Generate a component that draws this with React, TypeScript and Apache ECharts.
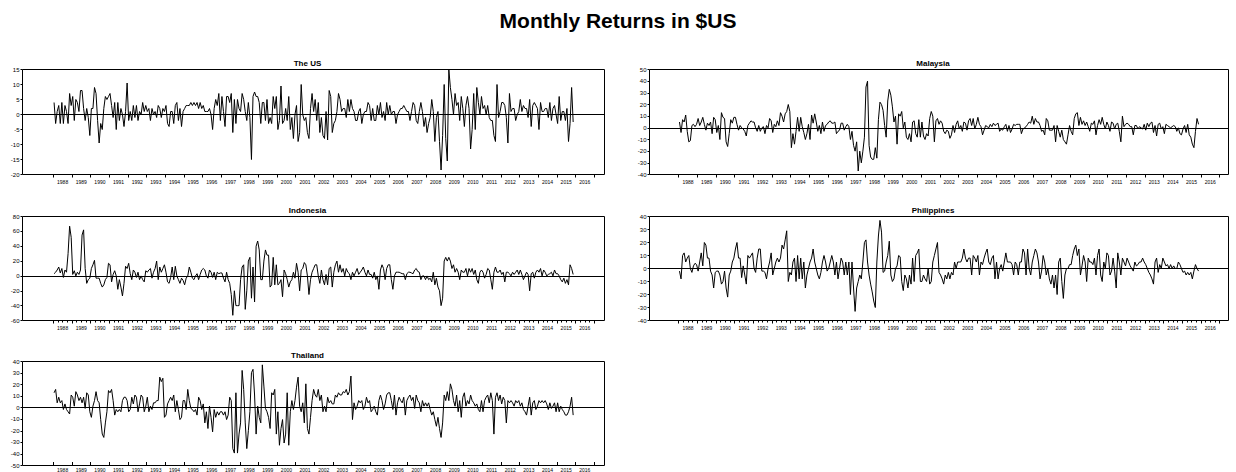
import React, { useEffect, useRef } from "react";
import * as echarts from "echarts";

// ---------- tick labels ----------
const years = [
  "1988", "1989", "1990", "1991", "1992", "1993", "1994", "1995", "1996", "1997",
  "1998", "1999", "2000", "2001", "2002", "2003", "2004", "2005", "2006", "2007",
  "2008", "2009", "2010", "2011", "2012", "2013", "2014", "2015", "2016",
];

// ---------- monthly returns (%), one row per year, 1988M01 – 2015M11 ----------
const usReturns = [
  [4, -3, 1, 3, -3, 4, -3, 3, 1, -3, 7, 3],
  [6, -2, 5, 4, 1, 8, 8, 2, -2, 2, -1, -7],
  [2, 2, 9, 7, -2, -9.5, -3, -5, 2, 6, 5, 6],
  [7, 3, -1, 4, -5, 4, -2, 2, 0, -4, 1, 10.5],
  [-2, 1, -2, 3, -1, 3, -2, 1, 0, 4, 1, 3],
  [1, 2, -2, 2, 0, 1, -1, 3, 2, -1, 2, 1],
  [3, -3, -4, 1, 1, -3, 3, 4, -2, 2, -4, 1],
  [2, 3, 3, 3, 4, 3, 4, 3, 4, 2, 4, 2],
  [3, 1, 1, 1, 2, 0, -5, 2, 5, 3, 7, -2],
  [6, 1, -4, 6, 6, 4, 7, -6, 5, -3, 5, 2],
  [1, 7, 5, 1, -2, 4, -1, -15, 6, 7.5, 6, 6],
  [4, -3, 4, 4, -2, 5, -3, -1, -3, 6, 2, 6],
  [-5, -2, 9.5, -3, -2, 2, -2, 6, -5, -1, -8, 0],
  [3, -9, -6, 10, 0, -2, -1, -6, -8, 2, 7, 1],
  [5, -2, 4, -6, -1, -7, -8, 1, -8.5, 8, 6, -6],
  [-3, -2, 1, 7, 5, 1, 2, 2, -1, 5, 1, 5],
  [2, 1, -2, -2, 1, 2, -3, 0, 1, 1, 4, 3],
  [-2, 2, -2, -2, 3, 0, 4, -1, 1, -2, 4, 0],
  [3, 0, 1, 1, -3, 0, 1, 2, 2, 3, 2, 1],
  [1, -2, 1, 4, 3, -2, -3, 1, 4, 1, -4, -1],
  [-6, -3, -1, 5, 1, -9, -1, 1, -9, -18.5, -7, 10],
  [-8, -15.5, 15, 9, 5, 0, 7, 3, 4, -2, 6, 2],
  [-4, 3, 6, 2, -11.5, -5, 7, -5, 9, 4, 0, 6],
  [2, 3, 0, 3, -1, -2, -2, -7, -9, 10, -1, 1],
  [4, 4, 3, -1, -9.5, 7, 1, 2, 2, -2, 0, 1],
  [5, 1, 3, 2, 2, -1, 5, -4, 3, 4, 3, 2],
  [-5, 4, 1, 1, 2, 2, -1, 4, -2, 2, 3, 0],
  [-3, 6, -2, 1, 1, -2, 2, -9, -3, 9, -2.5],
];

const malaysiaReturns = [
  [5, -4, 7, 5, 11, -3, -12, -11, 2, 3, 1, 3],
  [8, 2, 5, 9, 3, -2, 4, 2, 5, -5, 9, 7],
  [-4, 2, -10, 13, 9, 8, -12, -16, -5, 7, 4, 9],
  [9, 3, -2, 2, 0, -1, -3, -7, 2, 4, 6, 5],
  [5, 0, -3, 2, -3, 0, 1, -5, 2, 0, 8, 6],
  [-4, 3, 1, 6, 2, 13, 10, 5, 12, 14, 20, 14],
  [-17, -5, -14, -3, 9, -3, 9, 1, -4, -10, -5, 3],
  [-10, 11, 4, 12, 5, -3, 2, -5, 5, -3, 2, 3],
  [5, 6, 4, 4, 5, -5, -3, -2, 4, 4, -2, 1],
  [3, 1, -10, -3, -15, -20, -12, -37, -20, -30, -20, -8],
  [35, 40, -15, -25, -27, -27, -17, -26, 7, 22, 20, 15],
  [2, -8, 23, 33, 28, 18, 5, 10, -14, 12, 10, 14],
  [0, 5, -8, -10, -5, -12, 5, 6, -5, -8, 7, -8],
  [5, -7, -10, -5, -7, 8, 14, 10, -12, 6, 8, 3],
  [6, 4, -3, -5, -2, -3, -9, -6, 2, -4, 3, 6],
  [-1, 2, -3, 5, 4, -2, 6, 8, 2, 8, -1, 3],
  [9, 3, 1, -6, -2, 2, 1, 0, 3, 1, 4, 2],
  [3, 4, -3, -1, -2, 1, 3, -3, 2, -4, -1, 3],
  [2, 3, 3, 3, -5, -1, 0, 1, 3, 5, 4, 10],
  [3, 8, 5, 5, 2, -3, -2, -6, 8, 6, -2, -2],
  [-2, 2, -12, 2, -3, -8, -2, -10, -12, -14, -6, 2],
  [-3, -6, 8, 12, 13, 2, 9, 3, 6, 2, 5, 1],
  [-3, 4, 3, 6, -6, 2, 7, 3, 9, 3, -1, 5],
  [2, -3, 5, 4, -1, 3, 4, -3, -12, 10, 1, 3],
  [4, 3, 1, 1, -6, 2, 2, -1, 1, 0, -1, 3],
  [-2, 4, 1, 4, 5, -4, 2, -7, 3, 4, -1, 1],
  [-5, 3, 2, 1, 0, 1, 2, 1, -3, 0, -5, -6],
  [-1, 2, -4, 3, -6, -8, -14, -17, -3, 8, 3],
];

const indonesiaReturns = [
  [3, 5, 8, 12, 4, 10, -2, 8, 5, 30, 67, 52],
  [2, 7, 0, 5, 2, 8, 55, 62, 10, -10, -5, -3],
  [10, 15, 21, -3, -3, -3, -10, -15, -12, -5, -2, 17],
  [15, -8, 2, 7, 0, -18, -5, -15, -27, -10, 13, 10],
  [17, 3, -5, 8, 5, -2, 5, -5, 0, -5, -8, 7],
  [5, 8, 10, -3, 5, 10, 20, -5, 12, 5, 10, 15],
  [5, -8, -10, -2, 12, -5, 13, 0, -5, -10, -3, -6],
  [-12, -3, 0, 12, 5, -3, -5, 0, 3, -5, 2, 8],
  [10, 8, 0, -3, 8, 5, -2, 5, -5, 5, 3, 4],
  [4, -3, -8, 5, -5, -10, -25, -53, -20, -40, -40, -40],
  [-5, 12, 15, -45, -20, 20, 25, -30, 12, -35, 40, 47],
  [35, -5, -5, 20, 35, 28, 28, -15, -12, 25, -12, 15],
  [-12, -10, -5, -28, 8, 3, -5, -15, -8, -5, 5, -3],
  [17, 5, -20, 8, 10, 18, 15, 0, -25, -5, 5, 10],
  [15, 15, 0, -10, 8, -5, -12, 2, -12, 10, 12, -15],
  [5, 15, 20, 5, 15, 5, 10, 0, 10, 5, 3, -5],
  [5, 0, 5, 10, 2, 5, 8, 12, 5, 0, 8, 2],
  [2, -3, 5, -5, 0, -18, 8, 15, 10, -5, 10, 15],
  [15, -5, -18, 0, 5, 5, 5, 4, 3, 3, -5, 3],
  [5, 5, 4, 3, 8, 10, 6, 5, -5, 0, 0, -5],
  [0, -5, -3, -8, 5, -12, -3, -15, -20, -40, -30, 20],
  [25, 20, 25, 20, 10, 15, 5, 10, 5, -5, 8, 5],
  [5, 10, 0, 10, 5, 10, 2, 8, -5, -10, 5, 8],
  [5, -3, 2, 10, 8, -5, -18, 5, 12, 5, 5, 8],
  [2, 5, -8, 5, 5, 3, 0, 5, 2, 5, 8, 2],
  [8, 2, -5, 0, 5, 2, -20, 3, 5, -3, 5, 8],
  [5, 10, 0, 8, 5, 0, 2, 3, 5, 0, 8, 3],
  [3, 0, -5, -8, -3, -10, -5, -12, 15, 10, 2],
];

const philippinesReturns = [
  [-2, -8, 10, 12, 5, 8, 10, 0, -3, 2, 4, 3],
  [-2, 5, 12, 2, 20, 18, 8, 8, -2, -5, -15, -3],
  [-2, -2, -5, -12, -10, -2, -15, -22, -5, -2, 5, 8],
  [15, 20, 8, 8, -7, 2, -5, -12, 10, 8, 10, 12],
  [0, -3, 8, 15, 15, -2, -2, -3, -8, 0, 5, 12],
  [-5, 0, 5, 8, 5, 8, 18, 15, 22, 29, -10, -3],
  [-5, 5, 8, -10, 10, -8, 8, -8, 5, -15, -5, 0],
  [5, 8, 15, 5, 0, -5, -8, -3, 5, 10, 5, -2],
  [0, 5, 10, 5, -5, 5, -8, 0, 8, 5, -5, 5],
  [-5, 5, -20, 5, -15, -33, -15, -10, -5, -8, 5, 20],
  [22, 5, -5, -12, -18, -25, -30, 5, 25, 37, 28, -3],
  [-2, 5, 10, 21, -5, -10, -8, 0, 2, 10, 9, -10],
  [-17, -5, -8, -15, -5, -12, 8, -10, 10, 12, 15, -10],
  [-10, -5, -8, -10, 0, -12, -10, 5, 10, 15, 20, -3],
  [-5, -8, -12, -5, -8, -3, -8, -3, -5, 5, 0, 5],
  [5, 5, 8, 15, 8, 5, 8, 8, -5, 10, 8, 5],
  [10, -5, 5, 3, 8, 12, 15, 5, 3, 8, 10, -8],
  [5, -8, 0, 3, -2, 5, 12, 5, 5, 5, 3, -5],
  [5, 3, -5, 5, 5, 15, 12, -5, 15, 0, -5, 5],
  [10, 15, 12, 5, -8, -2, 10, 5, -5, 0, -8, -12],
  [-5, -15, -5, -20, 5, 8, -10, -23, -5, 0, 0, 3],
  [3, 10, 15, 18, 10, 15, -5, 2, 10, 5, -10, 8],
  [5, 5, 3, 8, -5, 10, 15, -5, -10, 5, 0, 12],
  [10, -5, -2, 8, -2, -15, 12, 5, -5, 8, 5, 2],
  [8, 5, 2, 0, -2, 5, 2, 3, 5, 5, 8, 5],
  [3, 0, -3, -5, -8, -12, 5, 8, -3, 3, 0, 8],
  [5, 2, 3, 0, 3, 0, 2, 0, 0, 5, 3, 0],
  [-3, -2, -5, -3, -5, -3, -8, -2, 3, 0, -2],
];

const thailandReturns = [
  [12, 15, 3, 8, 3, 5, -3, 2, -3, -5, -7, 10],
  [8, 0, 13, 10, 5, 8, 3, 8, -2, 12, 10, -5],
  [-10, 0, 5, 13, 5, 3, -12, -25, -28, -15, -5, 14],
  [12, 15, 5, -8, -3, -5, -3, -5, 5, 8, 8, 5],
  [-5, -3, 8, 2, 10, 8, -5, 2, 10, 8, -5, 0],
  [8, -5, 0, -3, 3, 3, 5, 5, 26, 22, 25, -10],
  [-8, 2, 5, 8, 5, 10, -5, 5, -3, -12, -10, 5],
  [5, -3, 15, 5, -2, -3, -5, -3, -8, 8, 5, -3],
  [2, -15, -5, -20, 0, -10, -23, -3, -10, -5, -8, -5],
  [-5, -8, -5, -12, -8, 8, 5, -38, -42, 12, -42, -25],
  [-15, 32, 15, -15, -38, -22, -5, 30, 33, 10, -25, 0],
  [-10, -15, 37, 18, -2, -5, -10, -20, 12, 10, 15, -25],
  [-5, -35, -20, -12, -33, -25, 12, -35, -5, 5, -3, 5],
  [17, 26, 0, -5, 3, -15, 20, -20, -25, -10, 5, 15],
  [10, 8, 15, 5, 10, -5, 0, -5, 8, 3, 5, 2],
  [2, 10, 8, 12, 10, 10, 13, 12, 15, 10, 13, 27],
  [-12, 3, -3, 0, 5, 3, 5, -3, 0, 8, 3, 5],
  [-5, -3, 0, -5, -8, 5, 10, 5, -3, 2, 10, 12],
  [12, 5, -3, 10, -8, 3, 8, 5, 3, 8, -8, 5],
  [8, 10, 5, 8, -2, 10, 5, 3, -5, 5, 0, 3],
  [0, 3, -3, -8, -5, -12, -18, -10, -20, -28, -15, 10],
  [5, 13, 5, 20, 15, 5, 0, 10, -5, 5, -10, 8],
  [12, 0, 5, 2, 10, 5, 3, 0, 2, -3, -5, 5],
  [-5, 5, 8, 10, 3, 12, 5, -25, 8, 12, 5, 10],
  [2, 8, 5, -15, 5, 3, 5, 3, 0, 5, 3, 5],
  [0, 3, -3, -5, -8, 0, 8, -8, 3, 5, -3, 0],
  [5, 3, 5, 3, 5, 2, -3, 3, -2, 0, 3, -5],
  [3, -5, 0, -3, -5, -8, -8, -5, 0, 8, -8],
];

const startYear = 1988;

// ---------- layout (kept apart from the data) ----------
const FONT = '"Liberation Sans Narrow", "Liberation Sans", Arial, sans-serif';
const YEAR_PX = 18.65;

type Panel = {
  name: string;
  data: number[][];
  box: [number, number, number, number];
  dataLeft: number;
  yMin: number;
  yMax: number;
  yStep: number;
  minor: boolean;
};

const panels: Panel[] = [
  { name: "The US", data: usReturns, box: [22.5, 69.5, 582, 105], dataLeft: 53.3, yMin: -20, yMax: 15, yStep: 5, minor: false },
  { name: "Malaysia", data: malaysiaReturns, box: [649.5, 69.5, 579, 105], dataLeft: 678.7, yMin: -40, yMax: 50, yStep: 10, minor: false },
  { name: "Indonesia", data: indonesiaReturns, box: [22.5, 216.5, 582, 104], dataLeft: 53.3, yMin: -60, yMax: 80, yStep: 20, minor: true },
  { name: "Philippines", data: philippinesReturns, box: [649.5, 216.5, 579, 104], dataLeft: 678.7, yMin: -40, yMax: 40, yStep: 10, minor: true },
  { name: "Thailand", data: thailandReturns, box: [22.5, 361.5, 582, 104], dataLeft: 53.3, yMin: -50, yMax: 40, yStep: 10, minor: false },
];

function toPoints(rows: number[][]): [number, number][] {
  const flat = rows.flat();
  return flat.map((v, i) => [startYear + (i + 0.5) / 12, v]);
}

function buildOption() {
  const grid: any[] = [];
  const xAxis: any[] = [];
  const yAxis: any[] = [];
  const series: any[] = [];
  const graphic: any[] = [];

  panels.forEach((p) => {
    const [bl, bt, bw, bh] = p.box;
    const gBox = grid.length;
    grid.push({
      left: bl, top: bt, width: bw, height: bh,
      show: true, borderColor: "#000", borderWidth: 1, backgroundColor: "transparent",
    });
    const gData = grid.length;
    grid.push({ left: p.dataLeft, top: bt, width: YEAR_PX * years.length, height: bh });

    // frame axes: zero line + y labels
    xAxis.push({
      gridIndex: gBox, type: "value", min: 0, max: 1, position: "bottom",
      axisLine: { show: true, onZero: true, lineStyle: { color: "#000", width: 1 } },
      axisTick: { show: false }, axisLabel: { show: false }, splitLine: { show: false },
    });
    yAxis.push({
      gridIndex: gBox, type: "value", min: p.yMin, max: p.yMax, interval: p.yStep,
      axisLine: { show: false },
      axisTick: { show: true, length: 2, lineStyle: { color: "#000", width: 1 } },
      axisLabel: { fontSize: 6, margin: 3, color: "#000", fontFamily: FONT },
      splitLine: { show: false },
    });

    // data axes: year labels (category) + time scale (value)
    xAxis.push({
      gridIndex: gData, type: "category", data: years, boundaryGap: true, position: "bottom",
      axisLine: { show: false }, axisTick: { show: false },
      axisLabel: { interval: 0, fontSize: 5, margin: 5, color: "#000", fontFamily: FONT },
      splitLine: { show: false },
    });
    const xVal = xAxis.length;
    xAxis.push({
      gridIndex: gData, type: "value", min: 1988, max: 2017, interval: 1, position: "bottom",
      axisLine: { show: false },
      axisTick: { show: true, length: 3, lineStyle: { color: "#000", width: 1 } },
      minorTick: { show: p.minor, splitNumber: 4, length: 2, lineStyle: { color: "#000", width: 1 } },
      axisLabel: { show: false }, splitLine: { show: false }, minorSplitLine: { show: false },
    });
    const yVal = yAxis.length;
    yAxis.push({ gridIndex: gData, type: "value", min: p.yMin, max: p.yMax, show: false });

    series.push({
      name: p.name, type: "line", xAxisIndex: xVal, yAxisIndex: yVal,
      data: toPoints(p.data), symbol: "none", silent: true,
      lineStyle: { color: "#000", width: 1 },
    });

    graphic.push({
      type: "text", x: bl + bw / 2 - 6, y: bt - 6.5, silent: true,
      style: {
        text: p.name, fill: "#000", font: `bold 8px "Liberation Sans", Arial, sans-serif`,
        textAlign: "center", textVerticalAlign: "middle", align: "center", verticalAlign: "middle",
      },
    });
  });

  graphic.push({
    type: "text", x: 618, y: 20.5, silent: true,
    style: {
      text: "Monthly Returns in $US", fill: "#000",
      font: `bold 21px ${FONT}`,
      textAlign: "center", textVerticalAlign: "middle", align: "center", verticalAlign: "middle",
    },
  });

  return {
    animation: false,
    backgroundColor: "#fff",
    grid, xAxis, yAxis, series, graphic,
  };
}

export default function App() {
  const ref = useRef<HTMLDivElement>(null);
  useEffect(() => {
    if (!ref.current) return;
    const chart = echarts.init(ref.current, null, { renderer: "svg" });
    chart.setOption(buildOption() as any);
    return () => chart.dispose();
  }, []);
  return (
    <div
      ref={ref}
      style={{ position: "fixed", left: 0, top: 0, width: 1236, height: 472, background: "#fff" }}
    />
  );
}
